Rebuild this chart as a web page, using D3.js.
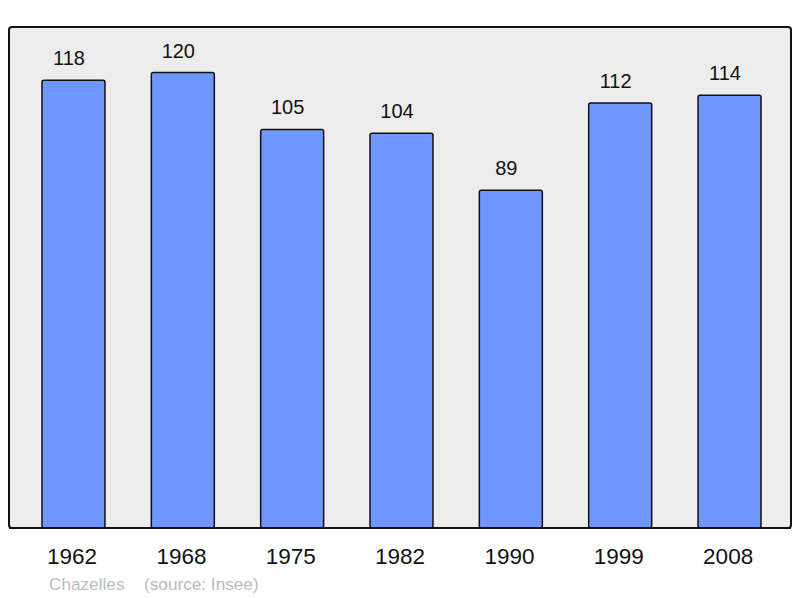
<!DOCTYPE html>
<html><head><meta charset="utf-8">
<script src="https://cdn.jsdelivr.net/npm/d3@7"></script>
<style>html,body{margin:0;padding:0;background:#fff;}svg{display:block;}</style>
</head><body>
<svg id="c" width="800" height="598"></svg>
<script>
const years = ["1962","1968","1975","1982","1990","1999","2008"];
const population = [118,120,105,104,89,112,114];
const footerLabel = "Chazelles";
const footerSource = "(source: Insee)";

const svg = d3.select("#c");
const font = "'Liberation Sans', Arial, sans-serif";
const plot = {x0:9, y0:27, x1:791, y1:528};

svg.append("rect").attr("x",plot.x0).attr("y",plot.y0)
  .attr("width",plot.x1-plot.x0).attr("height",plot.y1-plot.y0)
  .attr("rx",3).attr("fill","#ededed").attr("stroke","#111").attr("stroke-width",2);

const x = d3.scaleBand().domain(years).range([18.8,784.2]).paddingInner(0.424).paddingOuter(0.212);
const y = d3.scaleLinear().domain([0,132]).range([plot.y1, plot.y0]);

const data = years.map((yr,i)=>({yr, v:population[i]}));

svg.selectAll("rect.bar").data(data).enter().append("rect").attr("class","bar")
  .attr("x",d=>x(d.yr)).attr("y",d=>y(d.v))
  .attr("width",x.bandwidth()).attr("height",d=>plot.y1-y(d.v))
  .attr("rx",2).attr("fill","#7097ff").attr("stroke","#111").attr("stroke-width",1.5);

svg.append("line").attr("x1",plot.x0).attr("x2",plot.x1).attr("y1",plot.y1).attr("y2",plot.y1)
  .attr("stroke","#111").attr("stroke-width",2);

svg.selectAll("text.val").data(data).enter().append("text").attr("class","val")
  .attr("x",d=>x(d.yr)+x.bandwidth()/2-4.5).attr("y",d=>y(d.v)-15)
  .attr("text-anchor","middle").attr("font-family",font).attr("font-size",20)
  .attr("fill","#111").text(d=>d.v);

const xAxis = d3.axisBottom(x).tickSize(0).tickPadding(0);
const ax = svg.append("g").attr("transform",`translate(0,${plot.y1})`).call(xAxis);
ax.select(".domain").remove();
ax.selectAll("text").attr("font-family",font).attr("font-size",22.5).attr("fill","#111")
  .attr("dy",null).attr("y",36).attr("x",-1.4);

svg.append("text").attr("x",49).attr("y",590).attr("font-family",font).attr("font-size",17.2)
  .attr("fill","#bbb").text(footerLabel);
svg.append("text").attr("x",144).attr("y",590).attr("font-family",font).attr("font-size",17.2)
  .attr("fill","#bbb").text(footerSource);
</script>
</body></html>
